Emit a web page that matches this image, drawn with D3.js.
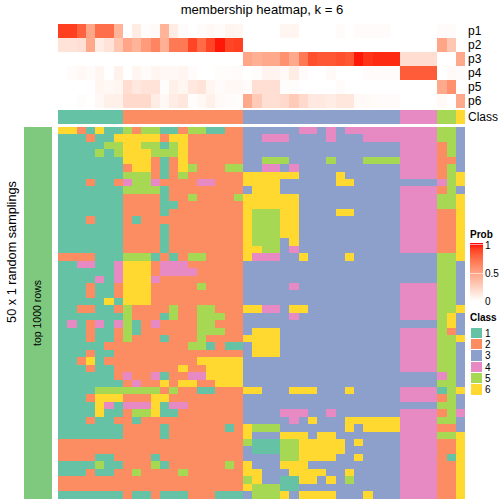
<!DOCTYPE html>
<html>
<head>
<meta charset="utf-8">
<script src="https://cdn.jsdelivr.net/npm/d3@7"></script>
<style>
html,body{margin:0;padding:0;background:#fff}
svg{display:block}
text{font-family:"Liberation Sans",Arial,sans-serif;fill:#000}
</style>
</head>
<body>
<div id="chart"></div>
<script>
const probNames = ["p1","p2","p3","p4","p5","p6"];
const p1 = [.9,.9,.78,.47,.73,.73,.4,0,.1,.01,.03,.4,.1,.02,0,.02,.04,.02,.06,.05,0,0,0,0,.05,.05,0,0,0,0,.02,0,.02,.02,.02,.02,0,0,0,0,0,.02,.02,0];
const p2 = [.15,.15,.17,.45,.1,.15,.3,.47,.4,.52,.63,.42,.68,.68,.88,.74,.88,.98,.88,.9,0,0,0,0,0,0,0,0,0,0,0,0,0,0,0,0,0,0,0,0,0,.47,.3,0];
const p3 = [0,0,0,0,0,0,0,0,0,0,0,0,0,0,0,0,0,0,0,0,.47,.42,.45,.45,.57,.45,.68,.85,.82,.82,.85,.82,.98,.93,.95,.95,.95,.18,.18,.18,.18,0,0,.45];
const p4 = [0,.02,.04,.02,.05,0,.07,0,.05,.02,.05,.04,.04,.05,.02,0,0,.01,.02,.02,0,.01,.06,.06,.03,.1,.02,0,0,.03,0,0,0,.02,.02,.02,.02,.8,.8,.8,.8,0,.03,.02];
const p5 = [0,0,0,0,.05,.04,.05,.18,.12,.15,.15,.01,.08,.05,.12,.15,.05,.02,.04,.04,.02,.17,.17,.17,.01,.01,0,0,0,0,.02,0,0,0,0,0,0,0,0,0,0,.45,.57,0];
const p6 = [0,0,.01,0,.04,.08,.08,.2,.2,.2,.1,.04,.1,.13,.01,.04,.08,.03,.02,.01,.45,.28,.17,.17,.2,.28,.2,.12,.12,.1,.13,.13,.03,.03,.02,.02,.02,0,0,0,0,.03,0,.45];
const classColumn = [1,1,1,1,1,1,1,2,2,2,2,2,2,2,2,2,2,2,2,2,3,3,3,3,3,3,3,3,3,3,3,3,3,3,3,3,3,4,4,4,4,5,5,6];
const classNames = [1,2,3,4,5,6];
const classColors = ["#66C2A5","#FC8D62","#8DA0CB","#E78AC3","#A6D854","#FFD92F"];
const probTicks = [1,0.5,0];
const membersLeft = [
"66216115255112551122","11121166666266222222","11111556655156222222","11115156665556222222","11111116662126222222",
"11111112662126522255","11111115552125222222","11121124554222244222","11111115555122222222","11111112222122522225",
"11111112222112222222","11111112222122222222","11121112122222222222","11111112222122222222","11111112222122222222",
"11111112222122222222","11111112222122222222","22221115551212552222","11441146662444222222","11111146662444422222",
"11114146664222222222","11121126662222252222","11121126662222222222","11111616662222222222","11221125222252255222",
"11111115222152255522","14124145124222255222","11121125122222255522","11121125222122252222","11111222222222551211",
"11121122222222222222","11261222222222266666","11121122222226226666","11111124224122446666","11111112422626622666",
"11115555555252211222","11126662226622222222","11116414446144222222","11116112556112222222","11121122122222222222",
"11111112222122222212","11111112222122222222","22222222222222222222","22222222222222222222","22221122221222222222",
"11115112225122222252","11121122522225222222","22222222222222222222","22222222222222222222","11111112112111222111"];
const membersRight = [
"333333443434444444444553","334443333433344444444553","333333333333333334444253","333333333333333334444253","335553333533355554444223",
"334434333333333334444253","666666333363333334444256","666633333366333333333456","366633333333333334444253","666666333333333334444556",
"666666333333333334444556","655566333366333334444226","655566333333333334444226","655566333333333334444226","655566333333333334444226",
"655536333333333334444226","665534333333333334444226","644433633336333333333556","333333333333333333333553","333333333333333333333553",
"333333333333333333333553","333334333333333334444553","333333333333333334444553","333333333333333334444553","664436633333333334444556",
"333334333333333334444563","333333333333333333333563","366633333333333334444523","666633333333333334444556","366633333333333334444553",
"366633333333333334444553","333333333333333334444553","333333333333333334444553","333333333333333333333453","333333333333333333333553",
"663336663336333334444156","333333333333333334444253","333333333333333333333553","333344433433333334444254","333334363336666664444553",
"655533333336366664444223","633366636633333334444556","511155666663633334444226","311155666663333334444226","333355666633633334444216",
"633366633333333334444226","663336666336333334444226","563311663635333334444226","655511333333333334444226","355563666633363334444226"];

const probRows = [p1,p2,p3,p4,p5,p6];
const W = 504, H = 504;
const svg = d3.select("#chart").append("svg").attr("width",W).attr("height",H);
const colIdx = d3.range(classColumn.length);
const rowIdx = d3.range(membersLeft.length);
const x = d3.scaleBand().domain(colIdx).range([58,465]);
const yTop = d3.scaleBand().domain(probNames).range([24,108]);
const yBody = d3.scaleBand().domain(rowIdx).range([127,498.5]);
const probColor = d3.scaleLinear().domain([0,1]).range(["#ffffff","#ff0000"]).interpolate(d3.interpolateLab);
const classColor = d3.scaleOrdinal().domain(classNames).range(classColors);
svg.attr("shape-rendering","crispEdges");

// probability rows
probRows.forEach((vals,r)=>{
  svg.append("g").selectAll("rect").data(vals).join("rect")
    .attr("x",(d,i)=>x(i)).attr("width",x.bandwidth()+.3)
    .attr("y",yTop(probNames[r])).attr("height",yTop.bandwidth()+.3)
    .attr("fill",d=>probColor(d));
  svg.append("text").attr("x",468).attr("y",yTop(probNames[r])+yTop.bandwidth()/2+4)
    .attr("font-size",12).text(probNames[r]);
});
// class annotation row
svg.append("g").selectAll("rect").data(classColumn).join("rect")
  .attr("x",(d,i)=>x(i)).attr("width",x.bandwidth()+.3).attr("y",110).attr("height",14)
  .attr("fill",d=>classColor(d));
svg.append("text").attr("x",468).attr("y",121).attr("font-size",12).text("Class");

// main body
const rows = rowIdx.map(r=>membersLeft[r]+membersRight[r]);
svg.append("g").selectAll("g").data(rows).join("g").each(function(row,r){
  d3.select(this).selectAll("rect").data(row.split("").map(Number)).join("rect")
    .attr("x",(d,i)=>x(i)).attr("width",x.bandwidth()+.3)
    .attr("y",yBody(r)).attr("height",yBody.bandwidth()+.3)
    .attr("fill",d=>classColor(d));
});

// left annotation
svg.append("rect").attr("x",24).attr("y",127).attr("width",28).attr("height",371.5).attr("fill","#7FC97F");
svg.append("text").attr("transform","translate(41,313) rotate(-90)").attr("text-anchor","middle").attr("font-size",10.5).text("top 1000 rows");
svg.append("text").attr("transform","translate(15.5,252) rotate(-90)").attr("text-anchor","middle").attr("font-size",12.7).text("50 x 1 random samplings");
svg.append("text").attr("x",262).attr("y",14).attr("text-anchor","middle").attr("font-size",13.1).text("membership heatmap, k = 6");

// Prob legend
const defs = svg.append("defs");
const grad = defs.append("linearGradient").attr("id","probGrad").attr("x1",0).attr("x2",0).attr("y1",0).attr("y2",1);
d3.range(0,1.001,0.1).forEach(t=>grad.append("stop").attr("offset",t).attr("stop-color",probColor(1-t)));
const yLegend = d3.scaleLinear().domain([0,1]).range([301,243]);
svg.append("text").attr("x",470).attr("y",237.5).attr("font-size",10).attr("font-weight","bold").text("Prob");
svg.append("rect").attr("x",470).attr("y",yLegend(1)).attr("width",12.5).attr("height",yLegend(0)-yLegend(1)).attr("fill","url(#probGrad)");
svg.append("g").selectAll("line").data([1,0.5]).join("line")
  .attr("x1",470).attr("x2",482.5).attr("y1",d=>yLegend(d)+1).attr("y2",d=>yLegend(d)+1).attr("stroke","#fff").attr("stroke-opacity",.6);
svg.append("g").selectAll("text").data(probTicks).join("text")
  .attr("x",485).attr("y",d=>d===1?249:d===0?304.5:277).attr("font-size",10).attr("fill","#222").text(d=>d);

// Class legend
const yClass = d3.scaleBand().domain(classNames).range([327,395]);
svg.append("text").attr("x",470).attr("y",321).attr("font-size",10).attr("font-weight","bold").text("Class");
svg.append("g").selectAll("rect").data(classNames).join("rect")
  .attr("x",470).attr("width",12.5).attr("y",d=>yClass(d)).attr("height",yClass.bandwidth())
  .attr("fill",d=>classColor(d)).attr("stroke","#fff").attr("stroke-width",1);
svg.append("g").selectAll("text").data(classNames).join("text")
  .attr("x",485).attr("y",d=>yClass(d)+yClass.bandwidth()/2+4).attr("font-size",10).attr("fill","#222").text(d=>d);
</script>
</body>
</html>
